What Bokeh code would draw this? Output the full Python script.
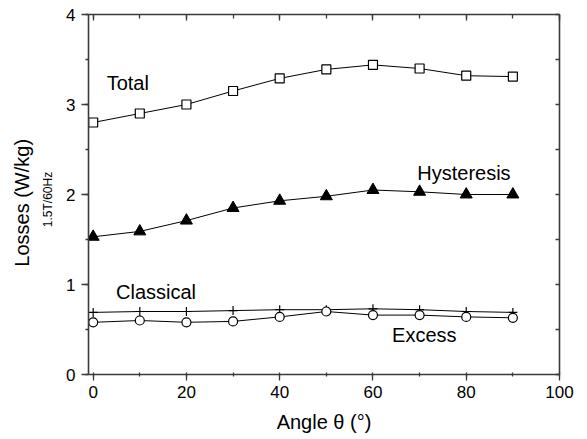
import math
from bokeh.plotting import figure
from bokeh.models import (Range1d, LinearAxis, SingleIntervalTicker, Label,
                          ColumnDataSource, FixedTicker, CustomJSTickFormatter)
from bokeh.embed import file_html
from bokeh.resources import INLINE

angle = [0, 10, 20, 30, 40, 50, 60, 70, 80, 90]
total = [2.80, 2.90, 3.00, 3.15, 3.29, 3.39, 3.44, 3.40, 3.32, 3.31]
hysteresis = [1.53, 1.59, 1.71, 1.85, 1.93, 1.98, 2.05, 2.03, 2.00, 2.00]
classical = [0.69, 0.70, 0.70, 0.71, 0.72, 0.72, 0.73, 0.72, 0.70, 0.69]
excess = [0.58, 0.60, 0.58, 0.59, 0.64, 0.70, 0.66, 0.66, 0.64, 0.63]

FONT = "Liberation Sans"
AX = "#3a3a3a"
NB = "\u00a0"

p = figure(frame_width=471, frame_height=360, output_backend="svg",
           toolbar_location=None,
           x_range=Range1d(-1, 100), y_range=Range1d(0, 4),
           min_border_left=88, min_border_right=20, min_border_top=14,
           min_border_bottom=57, x_axis_label="Angle θ (°)",
           y_axis_label="1.5T/60Hz" + NB * 3)
p.outline_line_color = None
p.xgrid.visible = False
p.ygrid.visible = False
p.background_fill_color = "white"

def style(ax):
    ax.axis_line_color = AX
    ax.axis_line_width = 1.6
    ax.major_tick_line_color = AX
    ax.minor_tick_line_color = AX
    ax.major_tick_line_width = 1.3
    ax.minor_tick_line_width = 1.3
    ax.major_label_text_font = FONT
    ax.major_label_text_font_size = "17px"
    ax.major_label_text_color = "black"
    ax.axis_label_text_font = FONT
    ax.axis_label_text_font_size = "20px"
    ax.axis_label_text_font_style = "normal"
    ax.axis_label_text_color = "black"

def blank(ax):
    ax.formatter = CustomJSTickFormatter(code="return '';")
    ax.major_label_standoff = 0

xa = p.xaxis[0]
xa.ticker = SingleIntervalTicker(interval=20, num_minor_ticks=2)
style(xa)
xa.major_tick_in = 0
xa.major_tick_out = 6
xa.minor_tick_in = 2
xa.minor_tick_out = 2
xa.major_label_standoff = 5
xa.axis_label_standoff = 10

ya = p.yaxis[0]
ya.ticker = SingleIntervalTicker(interval=1, num_minor_ticks=2)
style(ya)
ya.axis_label_text_font_size = "12px"
ya.major_tick_in = 0
ya.major_tick_out = 7
ya.minor_tick_in = 0
ya.minor_tick_out = 3
ya.major_label_standoff = 6
ya.axis_label_standoff = 8

# outer left axis carrying the main y label
yl = LinearAxis(ticker=FixedTicker(ticks=[]), axis_label="Losses (W/kg)" + NB * 3)
style(yl)
yl.axis_line_color = None
yl.major_tick_in = 0
yl.major_tick_out = 0
yl.minor_tick_in = 0
yl.minor_tick_out = 0
blank(yl)
yl.axis_label_standoff = 6
p.add_layout(yl, "left")

top = LinearAxis(ticker=SingleIntervalTicker(interval=20, num_minor_ticks=2))
style(top)
top.major_tick_in = 6
top.major_tick_out = 0
top.minor_tick_in = 4
top.minor_tick_out = 0
blank(top)
p.add_layout(top, "above")

right = LinearAxis(ticker=SingleIntervalTicker(interval=0.5, num_minor_ticks=0))
style(right)
right.major_tick_in = 4
right.major_tick_out = 0
right.minor_tick_in = 0
right.minor_tick_out = 0
blank(right)
p.add_layout(right, "right")

src = ColumnDataSource(dict(angle=angle, total=total, hysteresis=hysteresis,
                            classical=classical, excess=excess))

p.line("angle", "total", source=src, line_color="black", line_width=1)
p.scatter("angle", "total", source=src, marker="square", size=9,
          fill_color="white", line_color="black", line_width=1.2)

p.line("angle", "hysteresis", source=src, line_color="black", line_width=1)
p.scatter("angle", "hysteresis", source=src, marker="triangle", size=12,
          fill_color="black", line_color="black", line_width=1)

p.line("angle", "classical", source=src, line_color="black", line_width=1)
p.scatter("angle", "classical", source=src, marker="cross", size=9,
          line_color="black", line_width=1.2)

p.line("angle", "excess", source=src, line_color="black", line_width=1)
p.scatter("angle", "excess", source=src, marker="circle", size=9,
          fill_color="white", line_color="black", line_width=1.2)

def lab(x, y, t):
    p.add_layout(Label(x=x, y=y, text=t, text_font=FONT, text_font_size="20px",
                       text_color="black", text_baseline="alphabetic",
                       text_align="left"))

lab(2.9, 3.24, "Total")
lab(69.5, 2.24, "Hysteresis")
lab(4.9, 0.92, "Classical")
lab(64.1, 0.44, "Excess")

open("out.html", "w").write(file_html(p, INLINE))
